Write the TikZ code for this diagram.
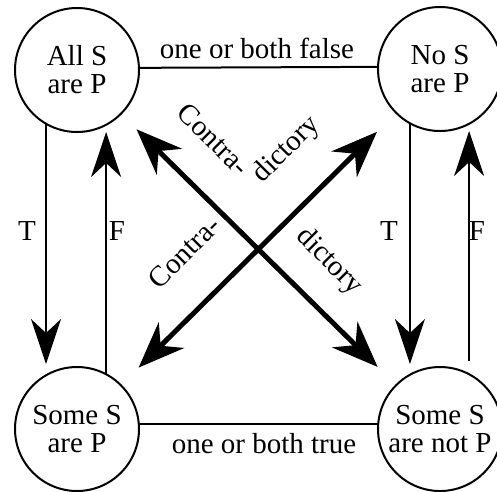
\documentclass[tikz,border=0pt]{standalone}
\usepackage{fontspec}
\setmainfont{Liberation Serif}
\usetikzlibrary{arrows.meta}
\begin{document}
\begin{tikzpicture}[x=1pt,y=-1pt,
  prop/.style={circle,draw,line width=2pt,minimum size=124pt,inner sep=0pt,outer sep=0pt,align=center,font=\fontsize{29}{28}\selectfont},
  rel/.style={line width=2pt},
  imp/.style={line width=2pt,-{Stealth[length=45pt,width=30pt,inset=14pt]}},
  contra/.style={line width=5pt,{Stealth[length=46pt,width=36pt,inset=15pt]}-{Stealth[length=46pt,width=36pt,inset=15pt]}},
  lbl/.style={font=\fontsize{29}{28}\selectfont,inner sep=0pt}]
\useasboundingbox (0,0) rectangle (497,491);
\node[prop] (A) at (77,70) {All S\\are P};
\node[prop] (B) at (440,69) {No S\\are P};
\node[prop] (C) at (77,429) {Some S\\are P};
\node[prop] (D) at (440,429) {Some S\\are not P};
% contraries / subcontraries
\draw[rel] (A.2) -- (B.178);
\draw[rel] (C.5) -- (D.175);
\node[lbl,anchor=base] (lf) at (257,58) {one or both false};
\node[lbl,anchor=base] (lt) at (264,453) {one or both true};
% subalternation
\draw[imp,shorten >=3pt] (A.240) -- (A.240 |- C.north);
\draw[imp] (C.62) -- (C.62 |- A.south);
\draw[imp,shorten >=3pt] (B.241) -- (B.241 |- D.north);
\draw[imp,shorten <=13pt] (D.62) -- (D.62 |- B.south);
\node[lbl,anchor=base] (t1) at (27,240) {T};
\node[lbl,anchor=base] (f1) at (117,240) {F};
\node[lbl,anchor=base] (t2) at (389,240) {T};
\node[lbl,anchor=base] (f2) at (477,240) {F};
% contradictories
\draw[contra,shorten <=22pt,shorten >=26pt] (A.-45) -- (D.135);
\draw[contra,shorten <=25pt,shorten >=27pt] (C.45) -- (B.225);
\node[lbl,rotate=-45] (c1) at (214,139) {Contra-};
\node[lbl,rotate=45] (d1) at (287,150) {dictory};
\node[lbl,rotate=45] (c2) at (184,252) {Contra-};
\node[lbl,rotate=-45] (d2) at (329,262) {dictory};
\end{tikzpicture}
\end{document}
